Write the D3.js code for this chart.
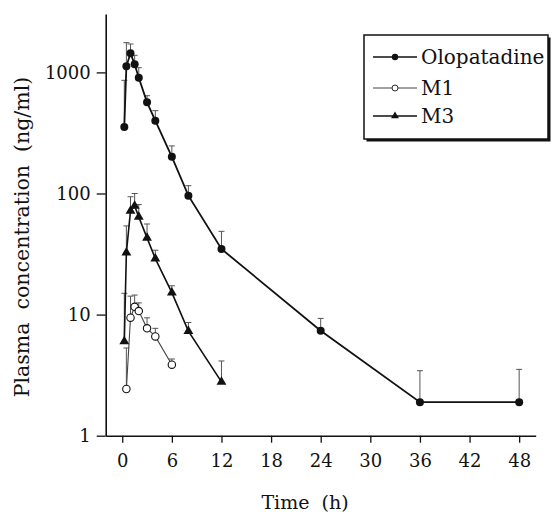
<!DOCTYPE html>
<html>
<head>
<meta charset="utf-8">
<script src="https://cdn.jsdelivr.net/npm/d3@7"></script>
<style>
  body { margin: 0; background: #fff; }
  text { font-family: "DejaVu Serif", serif; fill: #111; }
</style>
</head>
<body>
<svg id="chart" width="553" height="515"></svg>
<script>
// values (mean and top of the SD bar)
var oloTime  = [0.25, 0.5, 1, 1.5, 2, 3, 4, 6, 8, 12, 24, 36, 48];
var oloMean  = [354, 1123, 1438, 1166, 904, 566, 399, 201, 96, 34.8, 7.36, 1.89, 1.89];
var oloUpper = [860, 1760, 1716, 1384, 1093, 642, 483, 247, 116, 48.7, 9.3, 3.44, 3.53];

var m1Time  = [0.5, 1, 1.5, 2, 3, 4, 6];
var m1Mean  = [2.43, 9.43, 11.6, 10.7, 7.7, 6.6, 3.86];
var m1Upper = [5.3, 14.2, 14.5, 12.5, 9.4, 7.7, 4.3];

var m3Time  = [0.25, 0.5, 1, 1.5, 2, 3, 4, 6, 8, 12];
var m3Mean  = [6.0, 32.5, 71.7, 79, 64, 43, 29, 15.2, 7.3, 2.78];
var m3Upper = [15, 54, 94, 100, 81, 56, 34, 17.3, 8.6, 4.14];

var seriesNames = ['Olopatadine', 'M1', 'M3'];
var xTicks = [0, 6, 12, 18, 24, 30, 36, 42, 48];
var yTicks = [1, 10, 100, 1000];

/////// scales

var svg = d3.select('#chart');

var x = d3.scaleLinear()
    .domain([-2, 50])
    .range([105.7, 535.7]);

var y = d3.scaleLog()
    .domain([1, 3035])
    .range([435.7, 14]);

var zip = function (t, m, u) {
  return t.map(function (d, i) { return { t: d, v: m[i], u: u[i] }; });
};

var series = [
  { name: seriesNames[0], pts: zip(oloTime, oloMean, oloUpper), mark: 'dot',  width: 1.8, color: '#111' },
  { name: seriesNames[1], pts: zip(m1Time, m1Mean, m1Upper),    mark: 'ring', width: 1.1, color: '#444' },
  { name: seriesNames[2], pts: zip(m3Time, m3Mean, m3Upper),    mark: 'tri',  width: 1.6, color: '#111' }
];

/////// axes

var xAxis = svg.append('g')
    .attr('transform', 'translate(0,' + y(1) + ')')
    .call(d3.axisBottom(x).tickValues(xTicks).tickSize(7).tickSizeOuter(0).tickPadding(12));

var yAxis = svg.append('g')
    .attr('transform', 'translate(' + x(-2) + ',0)')
    .call(d3.axisLeft(y).tickValues(yTicks).tickFormat(d3.format('d')).tickSize(9).tickSizeOuter(0).tickPadding(6));

[xAxis, yAxis].forEach(function (a) {
  a.select('.domain').attr('stroke', '#111').attr('stroke-width', 1.6);
  a.selectAll('.tick line').attr('stroke', '#111').attr('stroke-width', 1.3);
  a.selectAll('.tick text')
      .attr('font-family', '"DejaVu Serif", serif')
      .attr('font-size', 18)
      .attr('fill', '#111');
});

svg.append('text')
    .attr('transform', 'translate(29,237) rotate(-90)')
    .attr('text-anchor', 'middle')
    .attr('font-size', 20.5)
    .attr('xml:space', 'preserve')
    .text('Plasma  concentration  (ng/ml)');

svg.append('text')
    .attr('x', 305)
    .attr('y', 509)
    .attr('text-anchor', 'middle')
    .attr('font-size', 19)
    .attr('xml:space', 'preserve')
    .text('Time  (h)');

/////// error bars, lines, markers

var line = d3.line()
    .x(function (d) { return x(d.t); })
    .y(function (d) { return y(d.v); });

var drawMark = function (g, mark) {
  if (mark === 'dot') {
    g.append('circle').attr('r', 4).attr('fill', '#111');
  } else if (mark === 'ring') {
    g.append('circle').attr('r', 3.7).attr('fill', '#fff').attr('stroke', '#111').attr('stroke-width', 1.1);
  } else {
    g.append('path').attr('d', d3.symbol(d3.symbolTriangle, 42)()).attr('fill', '#111');
  }
};

series.forEach(function (s) {
  var g = svg.append('g');

  var bars = g.selectAll('.err')
    .data(s.pts)
    .enter().append('g')
      .attr('stroke', '#555')
      .attr('stroke-width', 1);

  bars.append('line')
      .attr('x1', function (d) { return x(d.t); })
      .attr('x2', function (d) { return x(d.t); })
      .attr('y1', function (d) { return y(d.v); })
      .attr('y2', function (d) { return y(d.u); });

  bars.append('line')
      .attr('x1', function (d) { return x(d.t) - 3; })
      .attr('x2', function (d) { return x(d.t) + 3; })
      .attr('y1', function (d) { return y(d.u); })
      .attr('y2', function (d) { return y(d.u); });

  g.append('path')
      .datum(s.pts)
      .attr('d', line)
      .attr('fill', 'none')
      .attr('stroke', s.color)
      .attr('stroke-width', s.width);

  g.selectAll('.mark')
    .data(s.pts)
    .enter().append('g')
      .attr('transform', function (d) { return 'translate(' + x(d.t) + ',' + y(d.v) + ')'; })
      .each(function () { drawMark(d3.select(this), s.mark); });
});

/////// legend

var legend = svg.append('g');

legend.append('rect')
    .attr('x', 366.5).attr('y', 37.5)
    .attr('width', 184).attr('height', 104)
    .attr('fill', '#111');

legend.append('rect')
    .attr('x', 364).attr('y', 35)
    .attr('width', 184).attr('height', 104)
    .attr('fill', '#fff')
    .attr('stroke', '#111')
    .attr('stroke-width', 1.5);

var legendY = [57, 88, 116];

series.forEach(function (s, i) {
  var row = legend.append('g').attr('transform', 'translate(0,' + legendY[i] + ')');
  row.append('line')
      .attr('x1', 373).attr('x2', 417)
      .attr('stroke', s.color)
      .attr('stroke-width', s.mark === 'ring' ? 1 : 1.4);
  var m = row.append('g').attr('transform', 'translate(395,0) scale(0.8)');
  drawMark(m, s.mark);
  row.append('text')
      .attr('x', 421)
      .attr('dy', '0.36em')
      .attr('font-size', 20)
      .text(s.name);
});
</script>
</body>
</html>
